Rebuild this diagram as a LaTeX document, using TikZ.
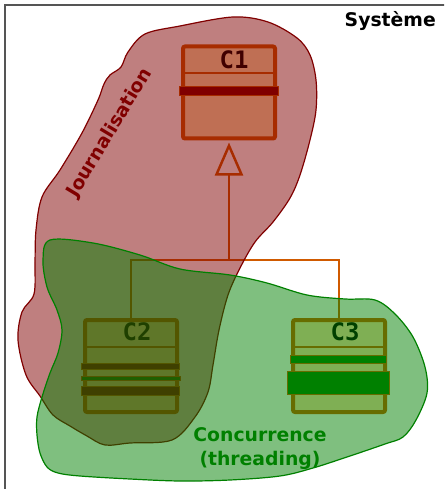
\documentclass[tikz,border=0pt]{standalone}
\usepackage{fontspec}
\setmainfont{DejaVu Sans}
\newfontfamily\classfont{DejaVu Sans Mono}
\usetikzlibrary{arrows.meta, calc}
\definecolor{umlOrange}{HTML}{D05A00}
\definecolor{umlFill}{HTML}{FFE0AA}
\definecolor{aspectRed}{HTML}{800000}
\definecolor{aspectGreen}{HTML}{008000}
\definecolor{frameGray}{HTML}{555555}

\begin{document}
\begin{tikzpicture}[x=1pt, y=-1pt,
    classbox/.style={draw=umlOrange, fill=umlFill, line width=4pt, rounded corners=2pt, minimum width=92pt, minimum height=92pt, inner sep=0pt},
    classname/.style={font=\classfont\bfseries\fontsize{24}{24}\selectfont, inner sep=0pt},
    sep/.style={umlOrange, line width=2pt},
    redbar/.style={fill=aspectRed, draw=umlOrange, line width=0.8pt},
    greenbar/.style={fill=aspectGreen, draw=umlOrange, line width=0.8pt},
    inherit/.style={umlOrange, line width=2pt},
    blob/.style={line width=1.2pt, fill opacity=0.5, smooth cycle, tension=0.55},
    aspect/.style={font=\bfseries\fontsize{18.8}{24}\selectfont, align=center, inner sep=0pt},
]
    \useasboundingbox (0,0) rectangle (444,489);
    \clip (0,0) rectangle (444,489);

    % System frame (runs off the page on the right and bottom)
    \draw[frameGray, line width=1.5pt] (5,5) rectangle (470,510);

    % Classes
    \node[classbox] (c1) at (229,92.5) {};
    \node[classbox] (c2) at (131,366) {};
    \node[classbox] (c3) at (339,366) {};

    \foreach \c in {c1,c2,c3}
        \draw[sep] ($(\c.north west)+(0,29)$) -- ($(\c.north east)+(0,29)$);

    \node[classname] (c1name) at ($(c1.north)+(5,15)$) {C1};
    \node[classname] (c2name) at ($(c2.north)+(6,14)$) {C2};
    \node[classname] (c3name) at ($(c3.north)+(6,14)$) {C3};

    % Aspect bars inside the classes
    \draw[redbar] ($(c1.north west)+(-1.5,42)$) rectangle ($(c1.north east)+(1.5,51)$);

    \draw[redbar] ($(c2.north west)+(-2,45)$) rectangle ($(c2.north east)+(0,51)$);
    \draw[greenbar] ($(c2.north west)+(-2,58)$) rectangle ($(c2.north east)+(1,62)$);
    \draw[redbar] ($(c2.north west)+(-2,68)$) rectangle ($(c2.north east)+(0,77)$);

    \draw[greenbar] ($(c3.north west)+(-1,37)$) rectangle ($(c3.north east)+(-1,45)$);
    \draw[greenbar] ($(c3.north west)+(-4,53)$) rectangle ($(c3.north east)+(2,76)$);

    % Inheritance
    \path (c1.south) ++(0,119) coordinate (fork);
    \draw[inherit] (c2.north) |- (fork) -| (c3.north);
    \draw[inherit, line width=2.5pt, -{Triangle[open, length=33pt, width=28pt]}] (fork) -- ([yshift=-2pt]c1.south);

    % Journalisation aspect
    \draw[blob, draw=aspectRed, fill=aspectRed] plot coordinates {
        (128,52) (145,34) (180,26) (233,17) (268,22) (297,38) (310,55) (316,80)
        (316,110) (310,140) (300,175) (290,198) (273,222) (255,242) (240,268)
        (228,295) (219,330) (213,365) (208,392) (195,417) (172,440) (130,443)
        (105,445) (87,436) (70,426) (53,415) (40,396) (26,375) (18,340) (22,312)
        (34,294) (35,262) (36,230) (42,197) (60,170) (82,133) (98,100) (104,84)
        (110,75) (121,67)};

    % Concurrence aspect
    \draw[blob, draw=aspectGreen, fill=aspectGreen] plot coordinates {
        (50,240) (93,243) (140,255) (180,269) (230,275) (267,283) (307,295)
        (345,299) (375,300) (395,314) (413,337) (425,367) (427,393) (416,420)
        (403,437) (385,444) (347,457) (313,468) (280,476) (230,480) (180,481)
        (130,479) (80,476) (58,473) (47,467) (40,453) (37,435) (37,417) (42,397)
        (50,373) (58,353) (62,330) (57,310) (47,287) (43,260)};

    % Labels
    \node[aspect, anchor=base east] (sys) at (436,27) {Système};
    \node[aspect, text=aspectRed, rotate=59] (jrnl) at (110,133) {Journalisation};
    \node[aspect, text=aspectGreen] (conc) at (260,449) {Concurrence\\(threading)};
\end{tikzpicture}
\end{document}
